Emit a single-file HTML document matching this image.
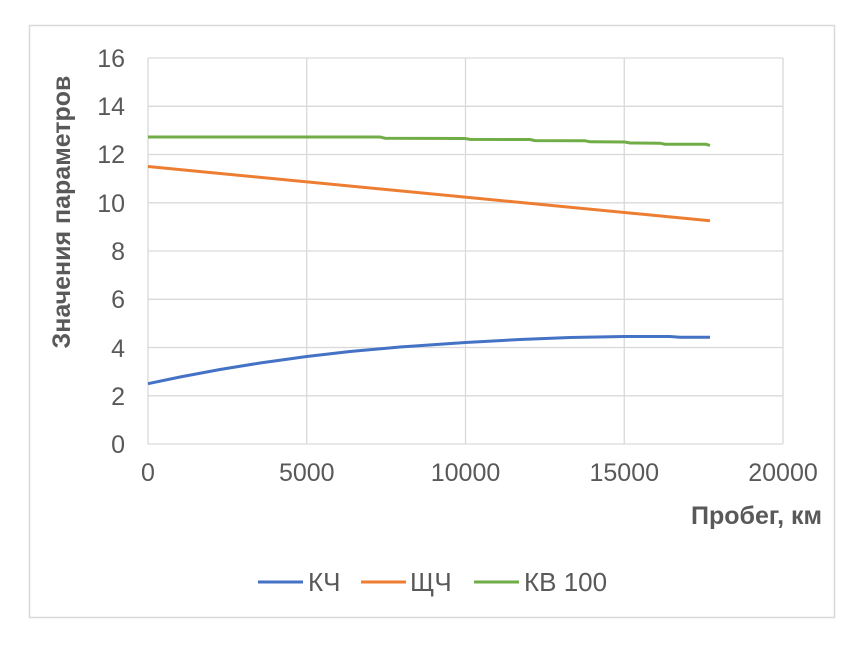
<!DOCTYPE html>
<html><head><meta charset="utf-8"><style>
body{margin:0;background:#fff;width:868px;height:651px;overflow:hidden}
svg{font-family:"Liberation Sans",sans-serif}
</style></head><body>
<svg width="868" height="651" xmlns="http://www.w3.org/2000/svg">
<rect x="29.5" y="25.5" width="805" height="592" fill="#fff" stroke="#d9d9d9" stroke-width="1.5"/>
<g stroke="#d9d9d9" stroke-width="1.3">
<line x1="148" y1="58" x2="783" y2="58"/>
<line x1="148" y1="106.3" x2="783" y2="106.3"/>
<line x1="148" y1="154.5" x2="783" y2="154.5"/>
<line x1="148" y1="202.8" x2="783" y2="202.8"/>
<line x1="148" y1="251" x2="783" y2="251"/>
<line x1="148" y1="299.3" x2="783" y2="299.3"/>
<line x1="148" y1="347.5" x2="783" y2="347.5"/>
<line x1="148" y1="395.8" x2="783" y2="395.8"/>
<line x1="148" y1="444" x2="783" y2="444"/>
<line x1="148" y1="58" x2="148" y2="444"/>
<line x1="306.75" y1="58" x2="306.75" y2="444"/>
<line x1="465.5" y1="58" x2="465.5" y2="444"/>
<line x1="624.25" y1="58" x2="624.25" y2="444"/>
<line x1="783" y1="58" x2="783" y2="444"/>
</g>
<g fill="#595959" font-size="25" text-anchor="end">
<text x="125" y="67">16</text><text x="125" y="115">14</text><text x="125" y="163">12</text>
<text x="125" y="212">10</text><text x="125" y="260">8</text><text x="125" y="308">6</text>
<text x="125" y="357">4</text><text x="125" y="405">2</text><text x="125" y="453">0</text>
</g>
<g fill="#595959" font-size="25" text-anchor="middle">
<text x="148" y="481">0</text><text x="306.75" y="481">5000</text><text x="465.5" y="481">10000</text>
<text x="624.25" y="481">15000</text><text x="783" y="481">20000</text>
</g>
<text x="822" y="524" font-size="25" font-weight="bold" fill="#595959" text-anchor="end">Пробег, км</text>
<text transform="translate(70,212) rotate(-90)" font-size="25" font-weight="bold" fill="#595959" text-anchor="middle">Значения параметров</text>
<g fill="none" stroke-width="3">
<polyline stroke="#70ad47" points="148,137 380,137 385,138.2 465,138.5 470,139.4 530,139.5 535,140.6 585,140.8 590,141.8 625,142 630,143 660,143.2 665,144.2 706,144.3 710,145.5"/>
<polyline stroke="#ed7d31" points="148,166.5 710,220.8"/>
<polyline stroke="#4472c4" points="148,383.7 180,377 220,369.5 260,363 306.75,356.5 350,351.5 400,347 465.5,342.5 520,339.5 570,337.5 624.25,336.5 670,336.5 680,337.2 710,337.3"/>
</g>
<g font-size="26" fill="#595959">
<line x1="258" y1="582" x2="303" y2="582" stroke="#4472c4" stroke-width="3"/>
<text x="308" y="591">КЧ</text>
<line x1="361" y1="582" x2="406" y2="582" stroke="#ed7d31" stroke-width="3"/>
<text x="410" y="591">ЩЧ</text>
<line x1="474" y1="582" x2="519" y2="582" stroke="#70ad47" stroke-width="3"/>
<text x="524" y="591">КВ 100</text>
</g>
</svg>
</body></html>
